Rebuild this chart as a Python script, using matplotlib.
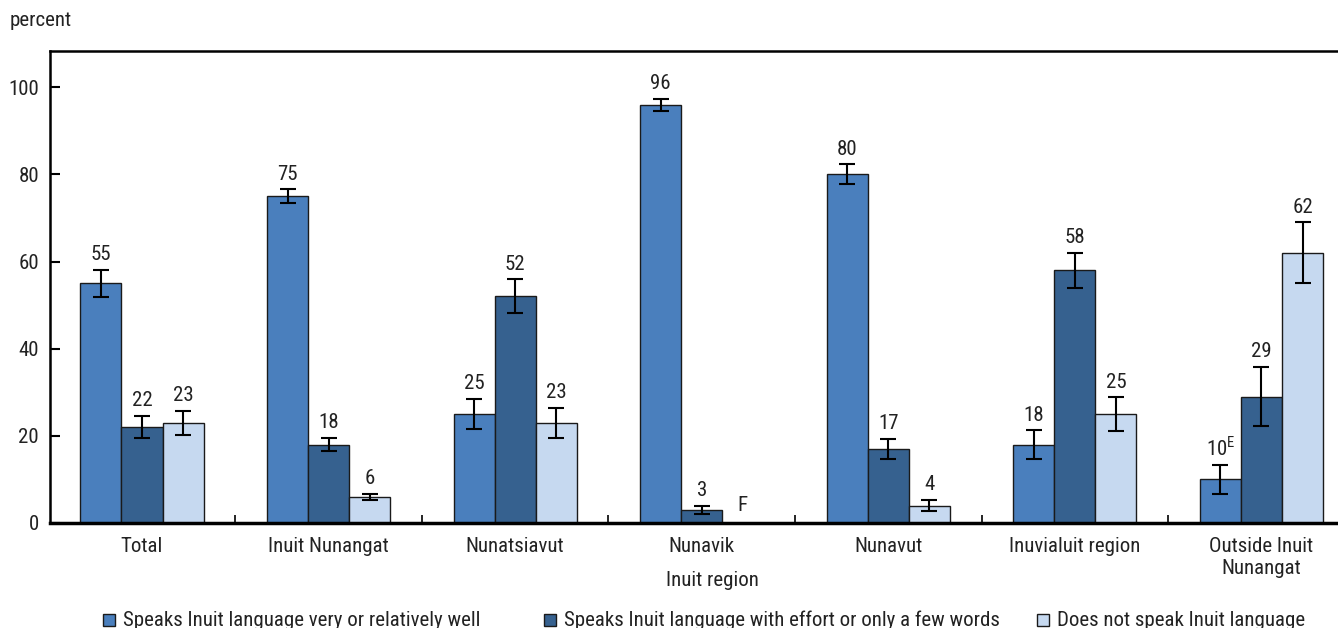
import matplotlib
matplotlib.use("Agg")
import matplotlib.pyplot as plt
from matplotlib import font_manager
from matplotlib.patches import Rectangle
import numpy as np

installed = {f.name for f in font_manager.fontManager.ttflist}
family = next((f for f in ["Liberation Sans Narrow", "Roboto Condensed", "Liberation Sans"]
               if f in installed), "DejaVu Sans")
narrow = family != "Liberation Sans" and family != "DejaVu Sans"
fs = 15 if narrow else 12.5
legend_fs = 15 if narrow else 12

plt.rcParams['font.family'] = [family, 'DejaVu Sans']
plt.rcParams['mathtext.fontset'] = 'custom'
plt.rcParams['mathtext.rm'] = family

regions = ["Total", "Inuit Nunangat", "Nunatsiavut", "Nunavik", "Nunavut",
           "Inuvialuit region", "Outside Inuit\nNunangat"]
series_names = ["Speaks Inuit language very or relatively well",
                "Speaks Inuit language with effort or only a few words",
                "Does not speak Inuit language"]

well = [55, 75, 25, 96, 80, 18, 10]
effort = [22, 18, 52, 3, 17, 58, 29]
none_ = [23, 6, 23, np.nan, 4, 25, 62]

well_err = [3.1, 1.6, 3.5, 1.4, 2.3, 3.3, 3.3]
effort_err = [2.6, 1.5, 3.9, 0.9, 2.3, 4.0, 6.8]
none_err = [2.8, 0.7, 3.4, np.nan, 1.3, 3.8, 7.0]

well_labels = ["55", "75", "25", "96", "80", "18", "10$^{\\mathregular{E}}$"]
effort_labels = ["22", "18", "52", "3", "17", "58", "29"]
none_labels = ["23", "6", "23", "F", "4", "25", "62"]

colors = ["#4a7fbd", "#36618f", "#c6d9f0"]
text_color = "#222222"

fig = plt.figure(figsize=(13.38, 6.28), dpi=100)
ax = fig.add_axes([50 / 1338, 105 / 628, 1 - 50 / 1338, (523 - 51) / 628])

x = np.arange(len(regions))
w = 0.22
values = [well, effort, none_]
errs = [well_err, effort_err, none_err]
labels = [well_labels, effort_labels, none_labels]

for k in range(3):
    xs = x + (k - 1) * w
    vals = np.array(values[k], dtype=float)
    er = np.array(errs[k], dtype=float)
    ax.bar(xs, np.nan_to_num(vals), width=w, color=colors[k],
           edgecolor="#1a1a1a", linewidth=1.0, zorder=2)
    for xi, v, e, lab in zip(xs, vals, er, labels[k]):
        if np.isnan(v):
            ax.annotate(lab, (xi, 0), xytext=(0, 6), textcoords="offset points",
                        ha="center", va="bottom", fontsize=fs, color=text_color)
            continue
        ax.errorbar(xi, v, yerr=e, fmt="none", ecolor="black", elinewidth=1.5,
                    capsize=6, capthick=1.5, zorder=3)
        ax.annotate(lab, (xi, v + e), xytext=(0, 4), textcoords="offset points",
                    ha="center", va="bottom", fontsize=fs, color=text_color)

ax.set_xlim(-0.493, 6.41)
ax.set_ylim(0, 108.3)
ax.set_yticks([0, 20, 40, 60, 80, 100])
ax.set_xticks(x)
ax.set_xticklabels(regions)
ax.set_xticks(np.arange(0.5, 6.5, 1.0), minor=True)
ax.tick_params(axis="x", which="major", length=0, pad=10, labelsize=fs,
               labelcolor=text_color)
ax.tick_params(axis="x", which="minor", direction="in", length=6, width=1.2,
               color="black")
ax.tick_params(axis="y", direction="in", length=7, width=1.5, pad=8,
               labelsize=fs, labelcolor=text_color)

for side in ["left", "top"]:
    ax.spines[side].set_linewidth(1.8)
ax.spines["bottom"].set_linewidth(2.5)
ax.spines["right"].set_visible(False)

ax.set_xlabel("Inuit region", fontsize=fs, color=text_color, va="center")
ax.xaxis.set_label_coords((712 - 50) / 1288, (523 - 580) / 472)
fig.text(10 / 1338, 1 - 20 / 628, "percent", fontsize=fs, color=text_color,
         ha="left", va="center")

# legend row along the bottom
leg_x = [103, 544, 1037]
leg_y = 620
for lx, name, c in zip(leg_x, series_names, colors):
    fig.add_artist(Rectangle((lx / 1338, (628 - leg_y - 6) / 628), 12 / 1338, 12 / 628,
                             transform=fig.transFigure, facecolor=c,
                             edgecolor="#1a1a1a", linewidth=1.0))
    fig.text((lx + 20) / 1338, (628 - leg_y) / 628, name, fontsize=legend_fs,
             color=text_color, ha="left", va="center")

fig.savefig("out.png", dpi=100)
